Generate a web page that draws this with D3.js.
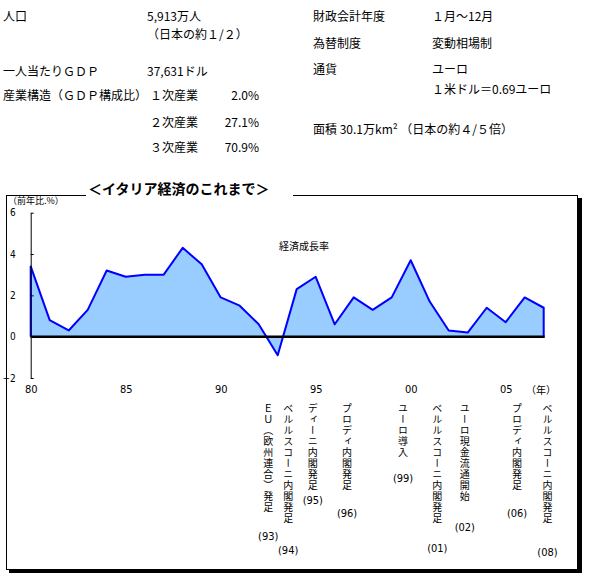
<!DOCTYPE html>
<html>
<head>
<meta charset="utf-8">
<script src="https://cdn.jsdelivr.net/npm/d3@7"></script>
<style>
  body { margin: 0; background: #fff; }
  text { fill: #000; }
</style>
</head>
<body>
<script>
// 実質GDP成長率 (前年比, %)
const years = [1980, 1981, 1982, 1983, 1984, 1985, 1986, 1987, 1988, 1989,
               1990, 1991, 1992, 1993, 1994, 1995, 1996, 1997, 1998, 1999,
               2000, 2001, 2002, 2003, 2004, 2005, 2006, 2007];
const growth = [3.4, 0.8, 0.3, 1.3, 3.2, 2.9, 3.0, 3.0, 4.3, 3.5,
                1.9, 1.5, 0.6, -0.9, 2.3, 2.9, 0.6, 1.9, 1.3, 1.9,
                3.7, 1.7, 0.3, 0.2, 1.4, 0.7, 1.9, 1.4];
const yTicks = [-2, 0, 2, 4, 6];
const xTicks = [1980, 1985, 1990, 1995, 2000, 2005];

// 出来事
const events = ['ＥＵ（欧州連合）発足', 'ベルルスコーニ内閣発足', 'ディーニ内閣発足', 'プロディ内閣発足',
                'ユーロ導入', 'ベルルスコーニ内閣発足', 'ユーロ現金流通開始', 'プロディ内閣発足',
                'ベルルスコーニ内閣発足'];
const eventYears = ['(93)', '(94)', '(95)', '(96)', '(99)', '(01)', '(02)', '(06)', '(08)'];
// where each column sits on the year axis
const eventAt = [1992.5, 1993.55, 1994.85, 1996.65, 1999.6, 2001.4, 2002.85, 2005.6, 2007.2];

// 概況
const sectors = ['１次産業', '２次産業', '３次産業'];
const shares = [2.0, 27.1, 70.9];
const profileLeft = [
  ['人口', '5,913万人'],
  ['', '（日本の約１/２）'],
  ['一人当たりＧＤＰ', '37,631ドル'],
  ['産業構造（ＧＤＰ構成比）', '']
];
const profileRight = [
  ['財政会計年度', '１月～12月'],
  ['為替制度', '変動相場制'],
  ['通貨', 'ユーロ'],
  ['', '１米ドル＝0.69ユーロ']
];
const areaText = '面積 30.1万km² （日本の約４/５倍）';

const W = 596, H = 586;
const jp = '"Noto Sans CJK JP", sans-serif';
const narrow = '"Liberation Sans Narrow", "DejaVu Sans Condensed", sans-serif';

const svg = d3.select('body').append('svg')
  .attr('width', W)
  .attr('height', H)
  .style('font-family', jp);

// ---- profile text
const leftRowsY = [15, 33, 70, 94];
const right_rows_y = [15, 42, 68, 88];

const info = svg.append('g').attr('class', 'info')
  .style('font-size', '12px')
  .attr('dominant-baseline', 'central');

profileLeft.forEach((r, i) => {
  info.append('text').attr('x', 3).attr('y', leftRowsY[i]).text(r[0]);
  info.append('text').attr('x', 147).attr('y', leftRowsY[i]).text(r[1]);
});
const sectorY = [94, 121, 146];
sectors.forEach((s, i) => {
  info.append('text').attr('x', 150).attr('y', sectorY[i]).text(s);
  info.append('text').attr('x', 259).attr('y', sectorY[i])
    .attr('text-anchor', 'end').text(shares[i].toFixed(1) + '%');
});
profileRight.forEach((r, i) => {
  info.append('text').attr('x', 313).attr('y', right_rows_y[i]).text(r[0]);
  info.append('text').attr('x', 432).attr('y', right_rows_y[i]).text(r[1]);
});
info.append('text').attr('x', 313).attr('y', 128).text(areaText);

// ---- framed box with drop shadow
svg.append('rect')
  .attr('x', 9).attr('y', 198)
  .attr('width', 573).attr('height', 375)
  .attr('fill', '#000');
svg.append('rect')
  .attr('x', 6.5).attr('y', 195.5)
  .attr('width', 571).attr('height', 374)
  .attr('fill', '#fff')
  .attr('stroke', '#000');
// gap in top border for the title
svg.append('rect')
  .attr('x', 86).attr('y', 190)
  .attr('width', 207).attr('height', 8)
  .attr('fill', '#fff');
svg.append('text')
  .attr('x', 88).attr('y', 188)
  .attr('dominant-baseline', 'central')
  .style('font-size', '14px')
  .style('font-weight', 'bold')
  .text('＜イタリア経済のこれまで＞');

// ---- chart
const x = d3.scaleLinear().domain([1980, 2005]).range([30.7, 505.7]);
const y = d3.scaleLinear().domain([-2, 6]).range([378, 212.7]);

const pts = years.map((yr, i) => [yr, growth[i]]);
const outline = [[years[0], 0], ...pts, [years[years.length - 1], 0]];

const plot = svg.append('g');

plot.append('path')
  .datum(pts)
  .attr('fill', '#99ccff')
  .attr('d', d3.area().x(d => x(d[0])).y0(y(0)).y1(d => y(d[1])));

plot.append('path')
  .datum(outline)
  .attr('fill', 'none')
  .attr('stroke', '#0000ff')
  .attr('stroke-width', 2)
  .attr('stroke-linejoin', 'round')
  .attr('d', d3.line().x(d => x(d[0])).y(d => y(d[1])));

plot.append('line')
  .attr('x1', x(years[0])).attr('x2', x(years[years.length - 1]) + 1)
  .attr('y1', y(0)).attr('y2', y(0))
  .attr('stroke', '#000')
  .attr('stroke-width', 2.5);

const yAxis = plot.append('g')
  .attr('transform', `translate(${x(1980)},0)`)
  .call(d3.axisLeft(y).tickValues(yTicks).tickSize(-3).tickPadding(15).tickSizeOuter(0));
yAxis.select('.domain').attr('stroke', '#000');
yAxis.selectAll('text')
  .style('font-family', narrow)
  .style('font-size', '10px');

const xAxis = plot.append('g')
  .attr('transform', `translate(0,${y(-2)})`)
  .call(d3.axisBottom(x).tickValues(xTicks).tickSize(0).tickPadding(7)
    .tickFormat(d => String(d).slice(2)));
xAxis.select('.domain').remove();
xAxis.selectAll('text')
  .style('font-family', narrow)
  .style('font-size', '11px');

plot.append('text')
  .attr('x', 541).attr('y', 389)
  .attr('text-anchor', 'middle')
  .attr('dominant-baseline', 'central')
  .style('font-size', '10px')
  .text('（年）');

plot.append('text')
  .attr('x', 8).attr('y', 200.5)
  .attr('dominant-baseline', 'central')
  .style('font-size', '9px')
  .text('（前年比.%）');

plot.append('text')
  .attr('x', 304).attr('y', 245)
  .attr('text-anchor', 'middle')
  .attr('dominant-baseline', 'central')
  .style('font-size', '10px')
  .text('経済成長率');

// ---- events, stacked one character per line
const eventYearY = [536, 550, 500, 513, 478, 548, 527, 513, 552];
const pitch = 11;
const ev = plot.append('g').attr('class', 'events')
  .style('font-size', '10px');
events.forEach((label, i) => {
  const cx = x(eventAt[i]);
  Array.from(label).forEach((ch, j) => {
    ev.append('text')
      .attr('x', cx)
      .attr('y', 403 + j * pitch)
      .style('writing-mode', 'vertical-rl')
      .style('text-orientation', 'upright')
      .text(ch);
  });
});
ev.selectAll('text.yr')
  .data(eventYears)
  .join('text')
  .attr('class', 'yr')
  .attr('x', (d, i) => x(eventAt[i]))
  .attr('y', (d, i) => eventYearY[i])
  .attr('text-anchor', 'middle')
  .attr('dominant-baseline', 'central')
  .style('font-family', narrow)
  .style('font-size', '11px')
  .text(d => d);
</script>
</body>
</html>
